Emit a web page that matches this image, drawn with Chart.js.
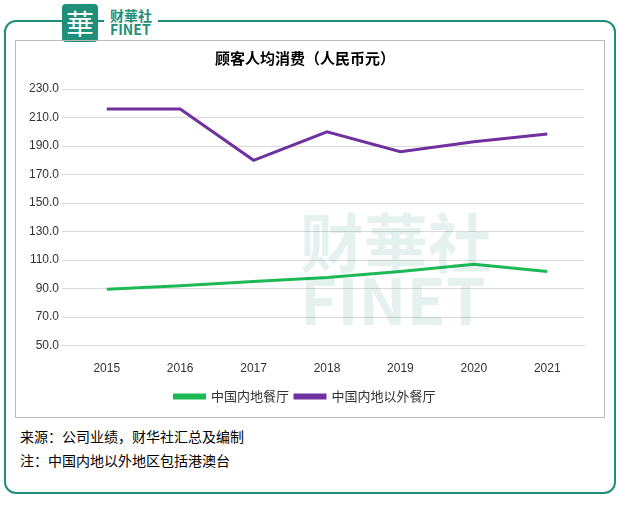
<!DOCTYPE html>
<html><head><meta charset="utf-8">
<script src="https://cdn.jsdelivr.net/npm/chart.js@4"></script>
<style>
body{margin:0;background:#fff;font-family:"Noto Sans CJK SC","Noto Sans",sans-serif;}
#frame{position:absolute;left:4px;top:20px;width:608px;height:470px;border:2px solid #1f8f7a;border-radius:12px;}
#logo{position:absolute;left:62px;top:4px;width:36px;height:38px;background:#1f8f7a;color:#fff;font-size:28px;text-align:center;line-height:38px;border-radius:4px;}
#brand{position:absolute;left:104px;top:8px;background:#fff;padding:0 6px;color:#1f8f7a;font-weight:bold;line-height:14px;font-size:14px;}
#box{position:absolute;left:15px;top:40px;width:588px;height:376px;border:1px solid #bbb;}
#wm{position:absolute;left:300px;top:210px;font-size:64px;color:rgba(31,143,122,0.12);font-weight:bold;line-height:58px;}
#src{position:absolute;left:20px;top:424px;font-size:14px;color:#000;line-height:24px;}
</style></head><body>
<div id="frame"></div>
<div id="logo">華</div>
<div id="brand">财華社<br>FINET</div>
<div id="box"><canvas id="c" width="588" height="376"></canvas></div>
<div id="wm">财華社<br>FINET</div>
<div id="src">来源：公司业绩，财华社汇总及编制<br>注：中国内地以外地区包括港澳台</div>
<script>
const years = ['2015','2016','2017','2018','2019','2020','2021'];
const mainland = [89.5, 92, 95, 97.7, 102, 107, 102];
const outside = [216, 216, 180, 200, 186, 193, 198.5];

new Chart(document.getElementById('c'), {
    type: 'line',
    data: {
        labels: years,
        datasets: [
            { label: '中国内地餐厅', data: mainland, borderColor: '#1db954', backgroundColor: '#1db954', borderWidth: 3, pointRadius: 0, tension: 0 },
            { label: '中国内地以外餐厅', data: outside, borderColor: '#7030a0', backgroundColor: '#7030a0', borderWidth: 3, pointRadius: 0, tension: 0 }
        ]
    },
    options: {
        responsive: false, animation: false,
        layout: { padding: { left: 10, right: 20, top: 2, bottom: 4 } },
        plugins: {
            title: { display: true, text: '顾客人均消费（人民币元）', color: '#000', font: { size: 15, weight: 'bold', family: 'Noto Sans CJK SC' }, padding: { top: 6, bottom: 22 } },
            legend: { position: 'bottom', labels: { boxWidth: 30, boxHeight: 3, color: '#333', font: { size: 13, family: 'Noto Sans CJK SC' }, padding: 6 } }
        },
        scales: {
            x: { offset: true, grid: { display: false }, border: { color: '#d9d9d9' }, ticks: { padding: 8, color: '#333', font: { size: 12 } } },
            y: { min: 50, max: 230, grid: { color: '#d9d9d9' }, border: { display: false },
                ticks: { stepSize: 20, color: '#333', font: { size: 12 }, callback: v => v.toFixed(1) } }
        }
    }
});
</script>
</body></html>
